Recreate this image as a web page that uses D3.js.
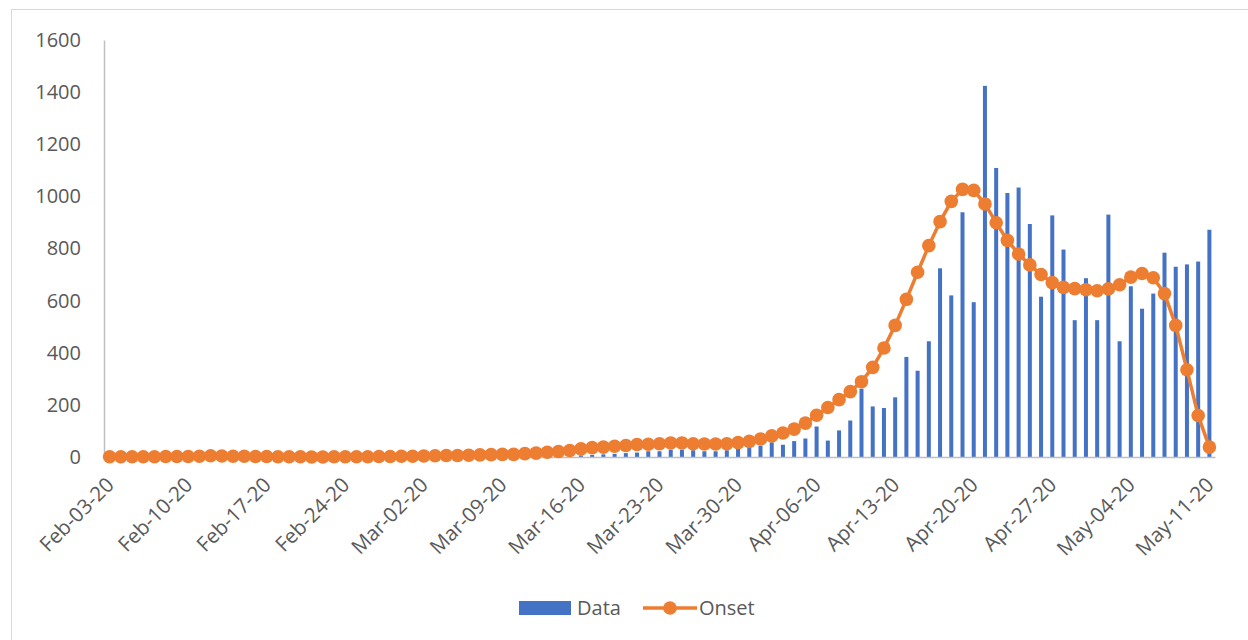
<!DOCTYPE html>
<html>
<head>
<meta charset="utf-8">
<script src="https://cdn.jsdelivr.net/npm/d3@7"></script>
<style>
  html, body { margin: 0; padding: 0; background: #fff; }
  svg { display: block; }
  text { font-family: "Open Sans", "Liberation Sans", sans-serif; fill: #595959; }
</style>
</head>
<body>
<svg id="chart" width="1248" height="640"></svg>
<script>
// ---- data ----
const startDate = "2020-02-03";
const endDate = "2020-05-11";
const tickLabels = ["Feb-03-20","Feb-10-20","Feb-17-20","Feb-24-20","Mar-02-20","Mar-09-20","Mar-16-20","Mar-23-20","Mar-30-20","Apr-06-20","Apr-13-20","Apr-20-20","Apr-27-20","May-04-20","May-11-20"];
const yTicks = [0, 200, 400, 600, 800, 1000, 1200, 1400, 1600];

const dataValues = [
  0,0,0,0,0,0,0,0,0,0,
  0,0,0,0,0,0,0,0,0,0,
  0,0,0,0,0,0,0,0,0,0,
  0,0,0,0,0,1,1,2,2,3,
  4,5,6,8,10,12,15,17,22,22,
  28,28,26,22,22,26,31,35,43,56,
  47,61,71,117,63,102,140,262,194,188,
  229,384,331,444,724,620,939,594,1424,1109,
  1013,1034,894,615,927,796,525,686,525,930,
  444,655,569,627,784,730,739,750,872
];
const onsetValues = [
  1,1,1,1,1,2,2,2,3,5,
  4,3,3,2,2,1,1,1,0,0,
  1,1,1,1,2,2,3,3,4,5,
  6,6,7,8,9,10,10,13,15,18,
  21,25,31,36,38,41,44,48,49,51,
  54,54,51,50,50,51,55,60,69,81,
  92,107,130,160,190,220,251,289,344,418,
  505,605,709,811,903,981,1027,1023,971,899,
  831,779,737,700,669,651,646,642,638,645,
  661,690,704,688,627,505,335,159,38
];

// ---- build ----
const parse = d3.timeParse("%Y-%m-%d");
const fmt = d3.timeFormat("%b-%d-%y");
const dates = d3.timeDay.range(parse(startDate), d3.timeDay.offset(parse(endDate), 1));
const categories = dates.map(fmt);
const rows = categories.map((c, i) => ({ cat: c, data: dataValues[i], onset: onsetValues[i] }));

const svg = d3.select("#chart");
const plot = { left: 104, right: 1215, top: 40, bottom: 457 };

// chart border
svg.append("rect")
  .attr("x", 11.5).attr("y", 9.5)
  .attr("width", 1260).attr("height", 660)
  .attr("fill", "none").attr("stroke", "#d9d9d9").attr("stroke-width", 1);

const xc = d3.scalePoint().domain(categories).range([plot.left, plot.right]).padding(0.5);
const y = d3.scaleLinear().domain([0, 1600]).range([plot.bottom, plot.top]);

// bars
svg.append("g").selectAll("rect").data(rows).enter().append("rect")
  .attr("x", d => xc(d.cat) - 2)
  .attr("width", 4)
  .attr("y", d => y(d.data))
  .attr("height", d => y(0) - y(d.data))
  .attr("fill", "#4472C4");

// y axis
const yAxis = d3.axisLeft(y).tickValues(yTicks).tickSize(0).tickPadding(23).tickFormat(d3.format("d"));
const gy = svg.append("g").attr("transform", `translate(${plot.left},0)`).call(yAxis);
gy.select(".domain").attr("stroke", "#bfbfbf").attr("stroke-width", 1.5);
gy.selectAll("text").style("font-size", "20px").attr("fill", "#595959");

// x axis
const xAxis = d3.axisBottom(xc).tickValues(tickLabels).tickSize(0).tickFormat(d => d);
const gx = svg.append("g").attr("transform", `translate(0,${plot.bottom})`).call(xAxis);
gx.select(".domain").attr("stroke", "#bfbfbf").attr("stroke-width", 1.5);
gx.selectAll("text")
  .style("font-size", "20.5px")
  .attr("fill", "#595959")
  .attr("text-anchor", "end")
  .attr("dy", "0.35em")
  .attr("y", 0)
  .attr("transform", "translate(0,24) rotate(-45)");

// onset line
const line = d3.line().x(d => xc(d.cat)).y(d => y(d.onset));
svg.append("path").datum(rows)
  .attr("d", line)
  .attr("fill", "none")
  .attr("stroke", "#ED7D31")
  .attr("stroke-width", 3.5)
  .attr("stroke-linejoin", "round");
svg.append("g").selectAll("circle").data(rows).enter().append("circle")
  .attr("cx", d => xc(d.cat))
  .attr("cy", d => y(d.onset))
  .attr("r", 6.8)
  .attr("fill", "#ED7D31");

// legend
const lg = svg.append("g");
lg.append("rect").attr("x", 519).attr("y", 601).attr("width", 52).attr("height", 14).attr("fill", "#4472C4");
lg.append("text").attr("x", 577).attr("y", 608).attr("dy", "0.35em").style("font-size", "20px").text("Data");
lg.append("line").attr("x1", 643).attr("x2", 697).attr("y1", 608).attr("y2", 608)
  .attr("stroke", "#ED7D31").attr("stroke-width", 3.5);
lg.append("circle").attr("cx", 670).attr("cy", 608).attr("r", 6.8).attr("fill", "#ED7D31");
lg.append("text").attr("x", 699).attr("y", 608).attr("dy", "0.35em").style("font-size", "20px").text("Onset");
</script>
</body>
</html>
